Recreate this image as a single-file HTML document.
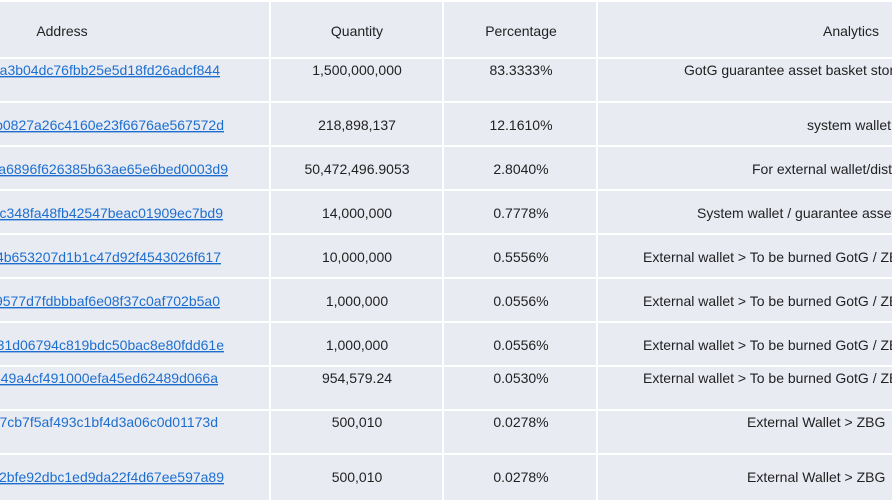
<!DOCTYPE html>
<html><head><meta charset="utf-8"><style>
html,body{margin:0;padding:0;background:#e9ebf3;overflow:hidden}
svg{display:block}
text{font-family:"Liberation Sans",sans-serif;font-size:14px;fill:#222}
.a{fill:#1d6fcf;text-decoration:underline}
.n{fill:#1d6fcf}
</style></head><body>
<svg width="892" height="500" xmlns="http://www.w3.org/2000/svg">
<rect width="892" height="500" fill="#e9ebf3"/>
<g stroke="#ffffff" stroke-width="2">
<line x1="0" y1="1" x2="892" y2="1"/>
<line x1="0" y1="58" x2="892" y2="58"/>
<line x1="0" y1="102" x2="892" y2="102"/>
<line x1="0" y1="146" x2="892" y2="146"/>
<line x1="0" y1="190" x2="892" y2="190"/>
<line x1="0" y1="234" x2="892" y2="234"/>
<line x1="0" y1="278" x2="892" y2="278"/>
<line x1="0" y1="322" x2="892" y2="322"/>
<line x1="0" y1="366" x2="892" y2="366"/>
<line x1="0" y1="410" x2="892" y2="410"/>
<line x1="0" y1="454" x2="892" y2="454"/>
<line x1="270" y1="0" x2="270" y2="500"/>
<line x1="443" y1="0" x2="443" y2="500"/>
<line x1="597" y1="0" x2="597" y2="500"/>
</g>
<text x="62" y="36" text-anchor="middle">Address</text>
<text x="357" y="36" text-anchor="middle">Quantity</text>
<text x="521" y="36" text-anchor="middle">Percentage</text>
<text x="851" y="36" text-anchor="middle">Analytics</text>

<g text-anchor="end">
<text class="a" x="220" y="75">0x8a3b04dc76fbb25e5d18fd26adcf844</text>
<text class="a" x="224" y="130">0x5b0827a26c4160e23f6676ae567572d</text>
<text class="a" x="228" y="174">0x1a6896f626385b63ae65e6bed0003d9</text>
<text class="a" x="223" y="218">0x2c348fa48fb42547beac01909ec7bd9</text>
<text class="a" x="221" y="262">0x4b653207d1b1c47d92f4543026f617</text>
<text class="a" x="220" y="306">0x9577d7fdbbbaf6e08f37c0af702b5a0</text>
<text class="a" x="224" y="350">0x31d06794c819bdc50bac8e80fdd61e</text>
<text class="a" x="218" y="383">0x549a4cf491000efa45ed62489d066a</text>
<text class="n" x="218" y="427">0x7cb7f5af493c1bf4d3a06c0d01173d</text>
<text class="a" x="224" y="482">0x2bfe92dbc1ed9da22f4d67ee597a89</text>
</g>

<g text-anchor="middle">
<text x="357" y="75">1,500,000,000</text>
<text x="357" y="130">218,898,137</text>
<text x="357" y="174">50,472,496.9053</text>
<text x="357" y="218">14,000,000</text>
<text x="357" y="262">10,000,000</text>
<text x="357" y="306">1,000,000</text>
<text x="357" y="350">1,000,000</text>
<text x="357" y="383">954,579.24</text>
<text x="357" y="427">500,010</text>
<text x="357" y="482">500,010</text>

<text x="521" y="75">83.3333%</text>
<text x="521" y="130">12.1610%</text>
<text x="521" y="174">2.8040%</text>
<text x="521" y="218">0.7778%</text>
<text x="521" y="262">0.5556%</text>
<text x="521" y="306">0.0556%</text>
<text x="521" y="350">0.0556%</text>
<text x="521" y="383">0.0530%</text>
<text x="521" y="427">0.0278%</text>
<text x="521" y="482">0.0278%</text>
</g>

<text x="684" y="75">GotG guarantee asset basket storage</text>
<text x="807" y="130">system wallet</text>
<text x="752" y="174">For external wallet/distribution</text>
<text x="697" y="218">System wallet / guarantee assets</text>
<text x="643" y="262">External wallet &gt; To be burned GotG / ZBG</text>
<text x="643" y="306">External wallet &gt; To be burned GotG / ZBG</text>
<text x="643" y="350">External wallet &gt; To be burned GotG / ZBG</text>
<text x="643" y="383">External wallet &gt; To be burned GotG / ZBG</text>
<text x="747" y="427">External Wallet &gt; ZBG</text>
<text x="747" y="482">External Wallet &gt; ZBG</text>
</svg>
</body></html>
